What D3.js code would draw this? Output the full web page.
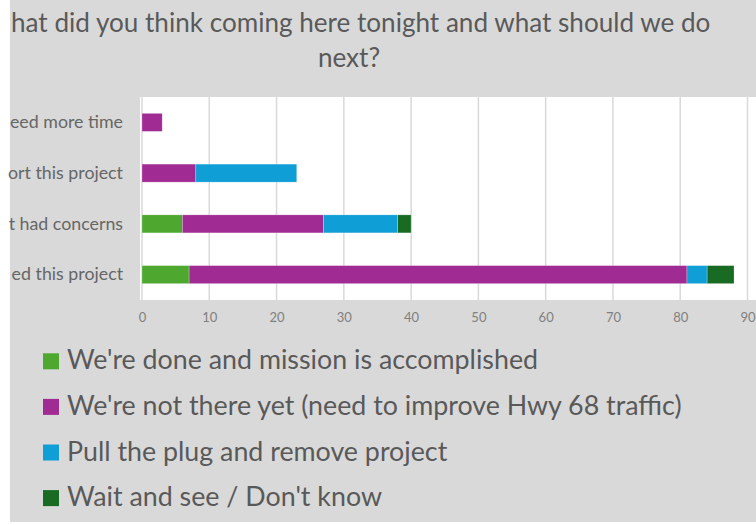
<!DOCTYPE html>
<html>
<head>
<meta charset="utf-8">
<script src="https://cdnjs.cloudflare.com/ajax/libs/d3/7.8.5/d3.min.js"></script>
<style>
  body { margin: 0; background: #fff; }
  text { font-family: Lato, "Open Sans", sans-serif; }
</style>
</head>
<body>
<div id="chart"></div>
<script>
// categories as they show in the picture (left side is cut off)
var categories = ["eed more time", "ort this project", "t had concerns", "ed this project"];
var seriesNames = [
    "We're done and mission is accomplished",
    "We're not there yet (need to improve Hwy 68 traffic)",
    "Pull the plug and remove project",
    "Wait and see / Don't know"
];
var colors = ["#4ea72e", "#a02b93", "#0f9ed5", "#196b24"];
// one array per series, same order as categories
var done = [0, 0, 6, 7];
var notThere = [3, 8, 21, 74];
var pullPlug = [0, 15, 11, 3];
var waitSee = [0, 0, 2, 4];
var xTicks = [0, 10, 20, 30, 40, 50, 60, 70, 80, 90];
var titleLines = ["hat did you think coming here tonight and what should we do", "next?"];

var W = 756, H = 525;
var svg = d3.select("#chart").append("svg")
    .attr("width", W)
    .attr("height", H);

// grey chart background
svg.append("rect")
    .attr("x", 10).attr("y", 0)
    .attr("width", W - 10).attr("height", 522)
    .attr("fill", "#d9d9d9");

// title
svg.append("text")
    .attr("x", 11).attr("y", 32)
    .style("font-size", "26.1px")
    .style("fill", "#595959")
    .text(titleLines[0]);
svg.append("text")
    .attr("x", 349).attr("y", 67)
    .attr("text-anchor", "middle")
    .style("font-size", "26.1px")
    .style("fill", "#595959")
    .text(titleLines[1]);

// plot area
var plotTop = 97, plotBottom = 300;
svg.append("rect")
    .attr("x", 140).attr("y", plotTop)
    .attr("width", W - 140).attr("height", plotBottom - plotTop)
    .attr("fill", "#ffffff");

var x = d3.scaleLinear().domain([0, 90]).range([142, 747.5]);
var y = d3.scaleBand()
    .domain(categories)
    .range([plotTop, plotBottom])
    .paddingInner(0.645)
    .paddingOuter(0.3225);

// gridlines
svg.append("g").selectAll("line")
    .data(xTicks)
    .enter().append("line")
    .attr("x1", function (d) { return x(d); })
    .attr("x2", function (d) { return x(d); })
    .attr("y1", plotTop)
    .attr("y2", plotBottom)
    .attr("stroke", "#d9d9d9")
    .attr("stroke-width", 1.5);

// stack the series
var table = categories.map(function (c, i) {
    return { cat: c, s0: done[i], s1: notThere[i], s2: pullPlug[i], s3: waitSee[i] };
});
var stack = d3.stack().keys(["s0", "s1", "s2", "s3"]);
var layers = stack(table);

svg.append("g").selectAll("g")
    .data(layers)
    .enter().append("g")
    .attr("fill", function (d, i) { return colors[i]; })
    .selectAll("rect")
    .data(function (d) { return d; })
    .enter().append("rect")
    .attr("x", function (d) { return x(d[0]); })
    .attr("y", function (d) { return y(d.data.cat); })
    .attr("width", function (d) { return x(d[1]) - x(d[0]); })
    .attr("height", y.bandwidth())
    .attr("stroke", "#ffffff")
    .attr("stroke-opacity", 0.4)
    .attr("stroke-width", 0.6);

// x axis labels
var xAxis = svg.append("g")
    .attr("transform", "translate(0," + 313 + ")")
    .call(d3.axisBottom(x).tickValues(xTicks).tickSize(0).tickPadding(0));
xAxis.select(".domain").remove();
xAxis.selectAll("text")
    .style("font-family", "Lato, sans-serif")
    .style("font-size", "13px")
    .style("fill", "#808080");

// category labels
var yAxis = svg.append("g")
    .attr("transform", "translate(123,0)")
    .call(d3.axisLeft(y).tickSize(0).tickPadding(0));
yAxis.select(".domain").remove();
yAxis.selectAll("text")
    .style("font-family", "Lato, sans-serif")
    .style("font-size", "17.8px")
    .style("fill", "#666666");

// legend
var legend = svg.append("g").selectAll("g")
    .data(seriesNames)
    .enter().append("g")
    .attr("transform", function (d, i) { return "translate(0," + (361.3 + i * 45.6) + ")"; });
legend.append("rect")
    .attr("x", 43).attr("y", -8)
    .attr("width", 16).attr("height", 16)
    .attr("fill", function (d, i) { return colors[i]; });
legend.append("text")
    .attr("x", 67).attr("y", 8)
    .style("font-size", "26.8px")
    .style("fill", "#595959")
    .text(function (d) { return d; });
</script>
</body>
</html>
